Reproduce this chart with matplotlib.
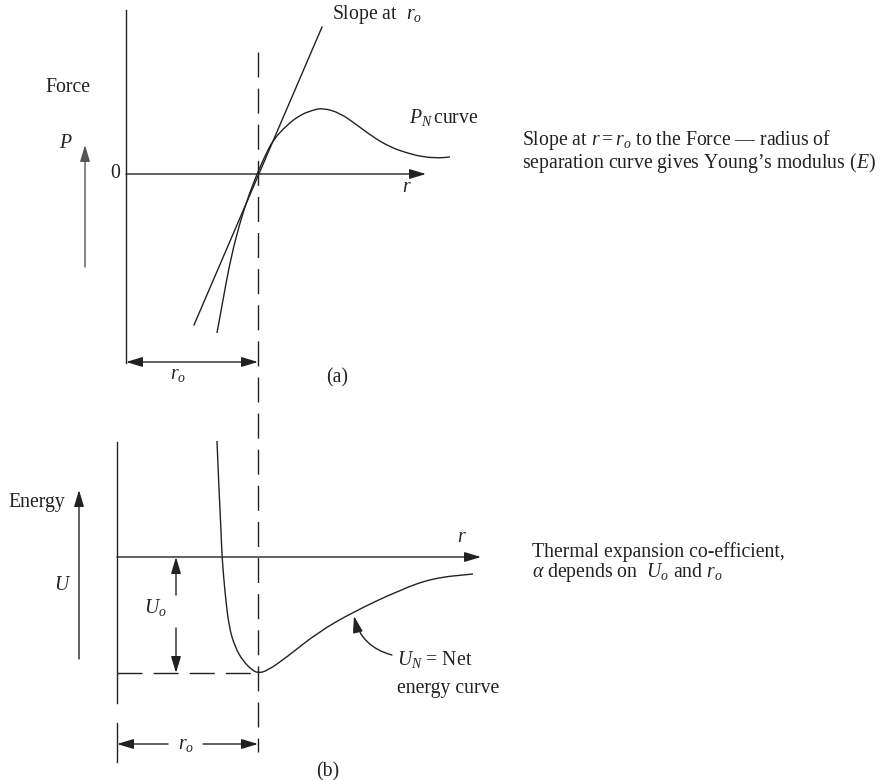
import matplotlib
matplotlib.use("Agg")
import matplotlib.pyplot as plt
from matplotlib.patches import FancyArrowPatch, PathPatch
from matplotlib.path import Path

plt.rcParams['font.family'] = ['Liberation Serif', 'DejaVu Serif']
plt.rcParams['mathtext.fontset'] = 'custom'
plt.rcParams['mathtext.rm'] = 'Liberation Serif'
plt.rcParams['mathtext.it'] = 'Liberation Serif:italic'

# Diagram is laid out in pixel units of the 886x780 picture (y goes down)
# (a) force curve P_N
pn_x = [217, 223, 229, 237, 247, 257, 265, 273, 287, 300, 313, 323, 340, 357, 373, 390, 407, 423, 440, 450]
pn_y = [333, 300, 267, 233, 200, 174, 156, 140, 125, 115, 110, 108, 113, 125, 137, 147, 153, 157, 158, 157]
# tangent at r_o
slope_x = [194, 322]
slope_y = [325, 27]

# (b) net energy curve U_N
un_x = [217, 219, 221, 222, 225, 229, 235, 243, 252, 258, 267, 287, 317, 353, 400, 433, 473]
un_y = [441, 490, 530, 557, 593, 627, 647, 661, 670, 673, 671, 657, 633, 612, 590, 578, 574]

FS = 14.2
DASH = (0, (18, 8))
k = '#222222'

fig = plt.figure(figsize=(8.86, 7.8), dpi=100)
ax = fig.add_axes([0, 0, 1, 1])
ax.set_xlim(0, 886)
ax.set_ylim(780, 0)
ax.axis('off')


def smooth_curve(xs, ys):
    # quadratic bezier pieces through midpoints, so the curve is drawn smooth
    pts = list(zip(xs, ys))
    verts = [pts[0], ((pts[0][0] + pts[1][0]) / 2, (pts[0][1] + pts[1][1]) / 2)]
    codes = [Path.MOVETO, Path.LINETO]
    for i in range(1, len(pts) - 1):
        mid = ((pts[i][0] + pts[i + 1][0]) / 2, (pts[i][1] + pts[i + 1][1]) / 2)
        verts += [pts[i], mid]
        codes += [Path.CURVE3, Path.CURVE3]
    verts.append(pts[-1])
    codes.append(Path.LINETO)
    ax.add_patch(PathPatch(Path(verts, codes), fill=False, edgecolor=k, lw=1.0))


def arrow(x0, y0, x1, y1, color=k, style='-|>', rad=0.0):
    a = FancyArrowPatch((x0, y0), (x1, y1),
                        arrowstyle=f"{style},head_length=1.0,head_width=0.3",
                        mutation_scale=10, color=color, lw=1.0,
                        shrinkA=0, shrinkB=0,
                        connectionstyle=f"arc3,rad={rad}")
    ax.add_patch(a)


# ---- panel (a) ----
ax.plot([126, 126], [10, 363], color=k, lw=1.0)
arrow(126, 174, 426, 174)
ax.plot([258, 258], [52, 752], color=k, lw=1.0, ls=DASH)
ax.plot(slope_x, slope_y, color=k, lw=1.0)
smooth_curve(pn_x, pn_y)
arrow(85, 267, 85, 145, color='#555555')
arrow(126, 362, 258, 362, style='<|-|>')

ax.text(68, 88, 'Force', fontsize=FS, ha='center', va='center', color=k)
ax.text(66, 143, '$P$', fontsize=FS, ha='center', va='center', color=k)
ax.text(115, 174, '0', fontsize=FS, ha='center', va='center', color=k)
ax.text(407, 187, '$r$', fontsize=FS, ha='center', va='center', color=k)
ax.text(332, 15, 'Slope at  $r_o$', fontsize=FS, ha='left', va='center', color=k)
ax.text(409, 118, '$P_N\\,$curve', fontsize=FS, ha='left', va='center', color=k)
ax.text(178, 375, '$r_o$', fontsize=FS, ha='center', va='center', color=k)
ax.text(337, 378, '(a)', fontsize=FS, ha='center', va='center', color=k)
ax.text(522, 140, 'Slope at $r = r_o$ to the Force \u2014 radius of',
        fontsize=FS, ha='left', va='center', color=k)
ax.text(522, 163, 'separation curve gives Young\u2019s modulus ($E$)',
        fontsize=FS, ha='left', va='center', color=k)

# ---- panel (b) ----
ax.plot([117, 117], [442, 703], color=k, lw=1.0)
ax.plot([117, 117], [723, 762], color=k, lw=1.0)
arrow(117, 557, 481, 557)
ax.plot([117, 258], [673, 673], color=k, lw=1.0, ls=DASH)
smooth_curve(un_x, un_y)
arrow(176, 595, 176, 557)
arrow(176, 628, 176, 673)
arrow(79, 659, 79, 490)
arrow(168, 744, 117, 744)
arrow(203, 744, 258, 744)
arrow(392, 655, 354, 616, rad=-0.3)

ax.text(37, 503, 'Energy', fontsize=FS, ha='center', va='center', color=k)
ax.text(63, 585, '$U$', fontsize=FS, ha='center', va='center', color=k)
ax.text(155, 607, '$U_o$', fontsize=FS, ha='center', va='center', color=k)
ax.text(462, 537, '$r$', fontsize=FS, ha='center', va='center', color=k)
ax.text(397, 659, '$U_N$ = Net', fontsize=FS, ha='left', va='center', color=k)
ax.text(397, 688, 'energy curve', fontsize=FS, ha='left', va='center', color=k)
ax.text(186, 744, '$r_o$', fontsize=FS, ha='center', va='center', color=k)
ax.text(328, 772, '(b)', fontsize=FS, ha='center', va='center', color=k)
ax.text(532, 552, 'Thermal expansion co-efficient,',
        fontsize=FS, ha='left', va='center', color=k)
ax.text(532, 573, '$\\alpha$ depends on  $U_o$ and $r_o$',
        fontsize=FS, ha='left', va='center', color=k)

fig.savefig('out.png', dpi=100)
